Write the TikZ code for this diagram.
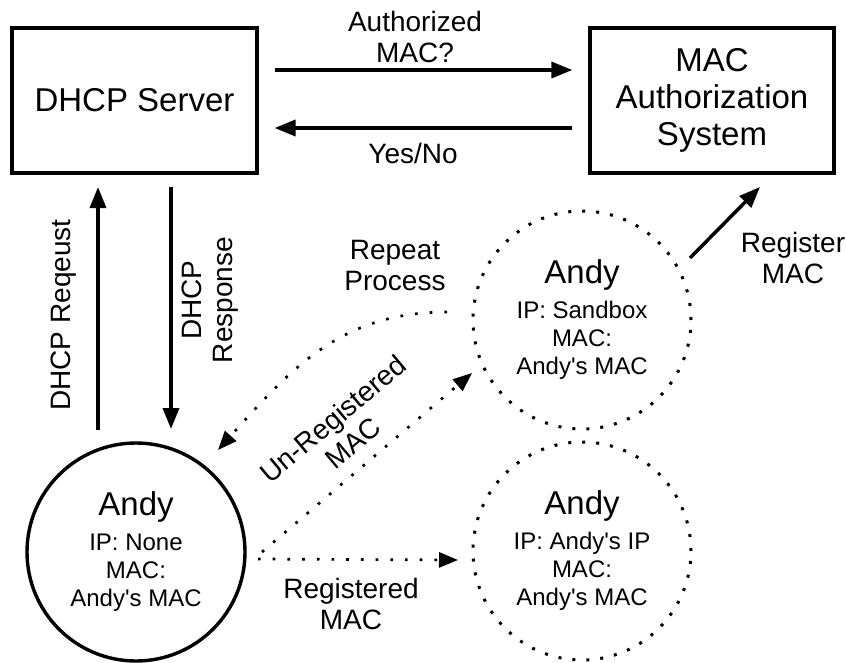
\documentclass[tikz,border=0pt]{standalone}
\usepackage{fontspec}
\setmainfont{Liberation Sans}
\usetikzlibrary{arrows.meta,calc}

\begin{document}
\begin{tikzpicture}[x=1pt, y=-1pt,
    box/.style={draw, line width=3.2pt, minimum width=245pt, minimum height=145pt,
                align=center, font=\fontsize{33}{37}\selectfont},
    host/.style={circle, minimum size=218pt, inner sep=0pt, align=center,
                 font=\fontsize{24}{28}\selectfont},
    solidhost/.style={host, draw, line width=3.4pt},
    dothost/.style={host, draw, line width=3pt, dash pattern=on 3pt off 11pt},
    lbl/.style={align=center, font=\fontsize{28}{31}\selectfont},
    arr/.style={line width=3.5pt, -{Triangle[length=21pt,width=16pt]}},
    dotarr/.style={line width=2.7pt, dash pattern=on 2.7pt off 12pt,
                   -{Triangle[length=19pt,width=15pt]}}]
        \useasboundingbox (0,0) rectangle (846,662);
        % servers
        \node[box] (dhcp) at (134.5,100.5) {DHCP Server};
        \node[box, minimum width=244pt] (mac) at (712,100.5) {MAC\\Authorization\\System};
        % hosts
        \node[solidhost] (andy) at (136,552)
              {{\fontsize{33}{33}\selectfont Andy}\\[7pt]IP: None\\MAC:\\Andy\textquotesingle s MAC};
        \node[dothost] (sand) at (582,320)
              {{\fontsize{33}{33}\selectfont Andy}\\[7pt]IP: Sandbox\\MAC:\\Andy\textquotesingle s MAC};
        \node[dothost] (reg) at (582,551)
              {{\fontsize{33}{33}\selectfont Andy}\\[7pt]IP: Andy\textquotesingle s IP\\MAC:\\Andy\textquotesingle s MAC};
        % server <-> authorization
        \draw[arr] ([shift={(16,-30.5)}]dhcp.east) -- ([shift={(-16,-30.5)}]mac.west);
        \draw[arr] ([shift={(-16,27.5)}]mac.west) -- ([shift={(16,27.5)}]dhcp.east);
        \node[lbl] (asklbl) at (415,36.5) {Authorized\\MAC?};
        \node[lbl] (anslbl) at (413,153.5) {Yes/No};
        % dhcp exchange
        \draw[arr] ([shift={(-38,-122)}]andy.center) -- ([shift={(-36.5,86.5)}]dhcp.center);
        \draw[arr] ([shift={(36.5,86.5)}]dhcp.center) -- ([shift={(35,-123)}]andy.center);
        \node[lbl, rotate=90] (reqlbl) at (64,315) {DHCP Reqeust};
        \node[lbl, rotate=90] (reslbl) at (210,300) {DHCP\\Response};
        % registration paths
        \draw[dotarr] ([shift={(126,0)}]andy.center) -- ([shift={(-110,53)}]sand.center);
        \node[lbl, rotate=40] (unlbl) at (343,431) {Un-Registered\\MAC};
        \draw[dotarr] ([shift={(122,7)}]andy.center) -- ([shift={(-124,9)}]reg.center);
        \node[lbl] (reglbl) at (351,604) {Registered\\MAC};
        \draw[dotarr] ([shift={(-135,-8)}]sand.center)
              .. controls (340,312) and (290,370) .. ([shift={(82,-102)}]andy.center);
        \node[lbl] (replbl) at (395,265.5) {Repeat\\Process};
        \draw[arr] ([shift={(108,-62)}]sand.center) -- ([shift={(48,86.5)}]mac.center);
        \node[lbl] (sublbl) at (793,258) {Register\\MAC};
      \end{tikzpicture}
\end{document}
